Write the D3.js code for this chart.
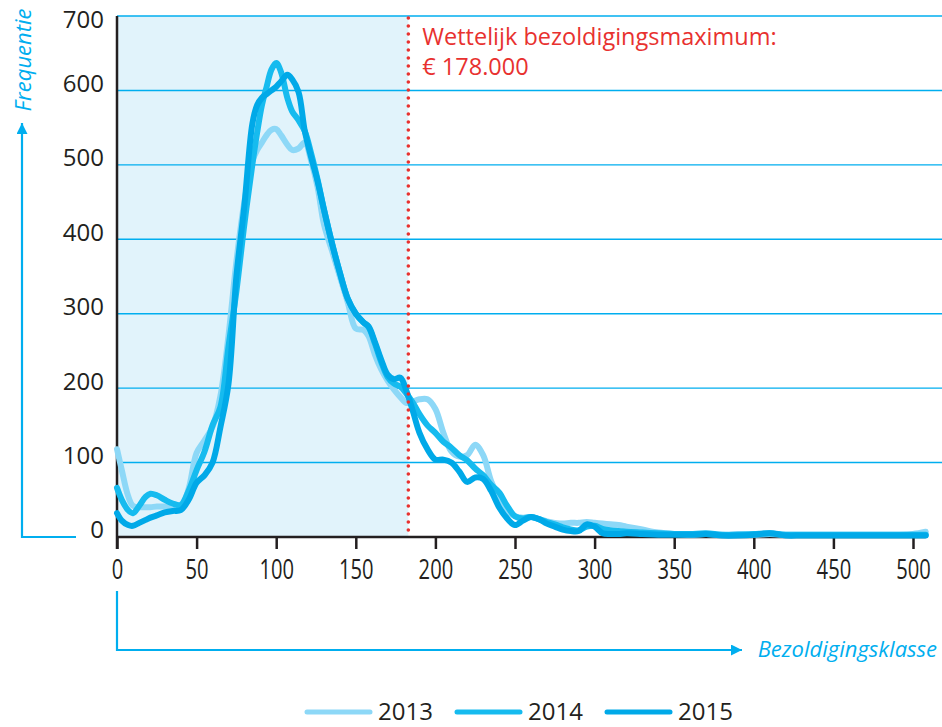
<!DOCTYPE html>
<html><head><meta charset="utf-8">
<script src="https://cdn.jsdelivr.net/npm/d3@7"></script>
<style>body{margin:0;background:#fff}svg{display:block}</style>
</head><body><svg id="c" width="942" height="727"></svg>
<script>
const classes = [0,3,7,10,14,18,21,25,30,35,40,45,50,55,60,65,70,75,80,85,88,91,94,97,100,103,107,110,114,118,122,126,130,135,140,145,150,155,158,162,166,170,174,178,182,186,190,195,200,205,210,215,220,225,230,235,240,245,250,255,260,265,270,275,280,285,290,295,300,305,310,315,320,330,340,350,360,370,380,390,400,410,420,430,440,450,460,470,480,490,500,508];
const y2013 = [118,90,55,42,40,40,40,41,41,42,40,65,113,130,148,190,270,370,450,505,520,530,540,547,548,540,527,520,522,530,505,470,420,385,350,315,280,278,270,245,225,210,198,188,180,182,185,185,172,140,115,108,110,124,110,75,52,35,28,26,27,24,21,19,18,19,19,20,19,18,17,16,14,10,6,4,3,4,3,4,3,4,3,3,3,3,3,3,3,3,4,7];
const y2014 = [66,50,36,32,42,54,58,56,50,45,43,62,90,115,150,175,255,330,420,500,543,580,605,628,637,625,590,572,560,545,515,480,440,395,355,320,300,288,282,260,235,215,206,202,192,180,165,150,140,128,120,110,103,92,83,70,60,42,28,25,27,24,20,17,13,10,9,14,15,11,9,8,7,6,5,4,4,5,3,3,4,5,3,3,3,3,3,3,3,3,3,3];
const y2015 = [32,22,16,15,19,23,26,29,33,35,36,50,73,83,100,148,205,350,445,555,580,590,595,600,605,612,621,615,598,545,510,478,440,395,355,320,300,288,283,262,238,218,212,214,195,168,140,118,104,104,100,88,74,80,78,62,40,25,16,22,27,24,18,14,10,8,8,17,14,5,4,4,5,4,3,3,3,4,2,2,3,5,2,2,2,2,2,2,2,2,2,2];
const years = ["2013","2014","2015"];
const xTicks = [0,50,100,150,200,250,300,350,400,450,500];
const yTicks = [0,100,200,300,400,500,600,700];
const maxClass = 183;
const annot = ["Wettelijk bezoldigingsmaximum:", "€ 178.000"];
const colors = ["#8dd8f7","#16bbef","#00a9e8"];

const svg = d3.select("#c");
const x = d3.scaleLinear([0,500],[117,913]);
const y = d3.scaleLinear([0,700],[537,16]);
const blue = "#00aeef";

svg.append("rect").attr("x",x(0)).attr("y",y(700)).attr("width",x(maxClass)-x(0)).attr("height",y(0)-y(700)).attr("fill","#e1f3fb");
svg.append("g").selectAll("line").data(yTicks.filter(d=>d>0)).join("line")
  .attr("x1",x(0)).attr("x2",942).attr("y1",d=>y(d)).attr("y2",d=>y(d))
  .attr("stroke",blue).attr("stroke-width",1.4);
svg.append("g").selectAll("text").data(yTicks).join("text")
  .attr("x",104).attr("y",d=>Math.max(y(d)-7,20)).attr("dy","0.35em").attr("text-anchor","end")
  .attr("font-family","Open Sans, sans-serif").attr("font-size",24).attr("fill","#231f20").text(d=>d);
const xa = svg.append("g").attr("transform",`translate(0,${y(0)})`)
  .call(d3.axisBottom(x).tickValues(xTicks).tickSize(12).tickPadding(10).tickFormat(d=>d));
xa.select(".domain").attr("d",`M${x(0)},0H${x(508)}`).attr("stroke","#231f20").attr("stroke-width",2.5);
xa.selectAll(".tick line").attr("stroke","#231f20").attr("stroke-width",2.5);
xa.selectAll(".tick text").attr("font-family","Open Sans, sans-serif")
  .attr("font-size",28).attr("fill","#231f20").attr("transform","scale(0.72,1)");
svg.append("line").attr("x1",x(0)).attr("x2",x(0)).attr("y1",y(700)).attr("y2",y(0)+12)
  .attr("stroke","#231f20").attr("stroke-width",2.5);

const series = [y2013,y2014,y2015];
const line = d3.line().x((d,i)=>x(classes[i])).y(d=>y(d)).curve(d3.curveCatmullRom.alpha(0.5));
svg.append("g").selectAll("path").data(series).join("path")
  .attr("d",d=>line(d)).attr("fill","none").attr("stroke",(d,i)=>colors[i])
  .attr("stroke-width",6).attr("stroke-linejoin","round").attr("stroke-linecap","round");

svg.append("line").attr("x1",x(maxClass)).attr("x2",x(maxClass)).attr("y1",y(700)+2).attr("y2",y(0))
  .attr("stroke","#e8312f").attr("stroke-width",3.6).attr("stroke-linecap","round").attr("stroke-dasharray","0 8");
svg.append("g").selectAll("text").data(annot).join("text")
  .attr("x",x(maxClass)+14).attr("y",(d,i)=>45+i*30)
  .attr("font-family","Open Sans, sans-serif").attr("font-size",23.5).attr("fill","#e8312f").text(d=>d);

const defs = svg.append("defs");
defs.append("marker").attr("id","ah").attr("viewBox","0 0 10 10").attr("refX",10).attr("refY",5)
  .attr("markerWidth",5).attr("markerHeight",5).attr("markerUnits","strokeWidth").attr("orient","auto")
  .append("path").attr("d","M0,0L10,5L0,10Z").attr("fill",blue);
svg.append("path").attr("d",`M76,${y(0)}H22V123`).attr("fill","none").attr("stroke",blue).attr("stroke-width",2.2).attr("marker-end","url(#ah)");
svg.append("path").attr("d",`M${x(0)},591V650H742`).attr("fill","none").attr("stroke",blue).attr("stroke-width",2.2).attr("marker-end","url(#ah)");
svg.append("text").attr("transform","translate(31,60) rotate(-90)").attr("text-anchor","middle")
  .attr("font-family","Open Sans, sans-serif").attr("font-style","italic").attr("font-size",22).attr("fill",blue).text("Frequentie");
svg.append("text").attr("x",937).attr("y",657).attr("text-anchor","end")
  .attr("font-family","Open Sans, sans-serif").attr("font-style","italic").attr("font-size",22).attr("fill",blue).text("Bezoldigingsklasse");

const lg = svg.append("g").selectAll("g").data(years).join("g").attr("transform",(d,i)=>`translate(${307+i*150},712)`);
lg.append("line").attr("x1",0).attr("x2",63).attr("stroke",(d,i)=>colors[i]).attr("stroke-width",5).attr("stroke-linecap","round");
lg.append("text").attr("x",71).attr("dy","0.35em").attr("font-family","Open Sans, sans-serif").attr("font-size",24).attr("fill","#231f20").text(d=>d);
</script></body></html>
